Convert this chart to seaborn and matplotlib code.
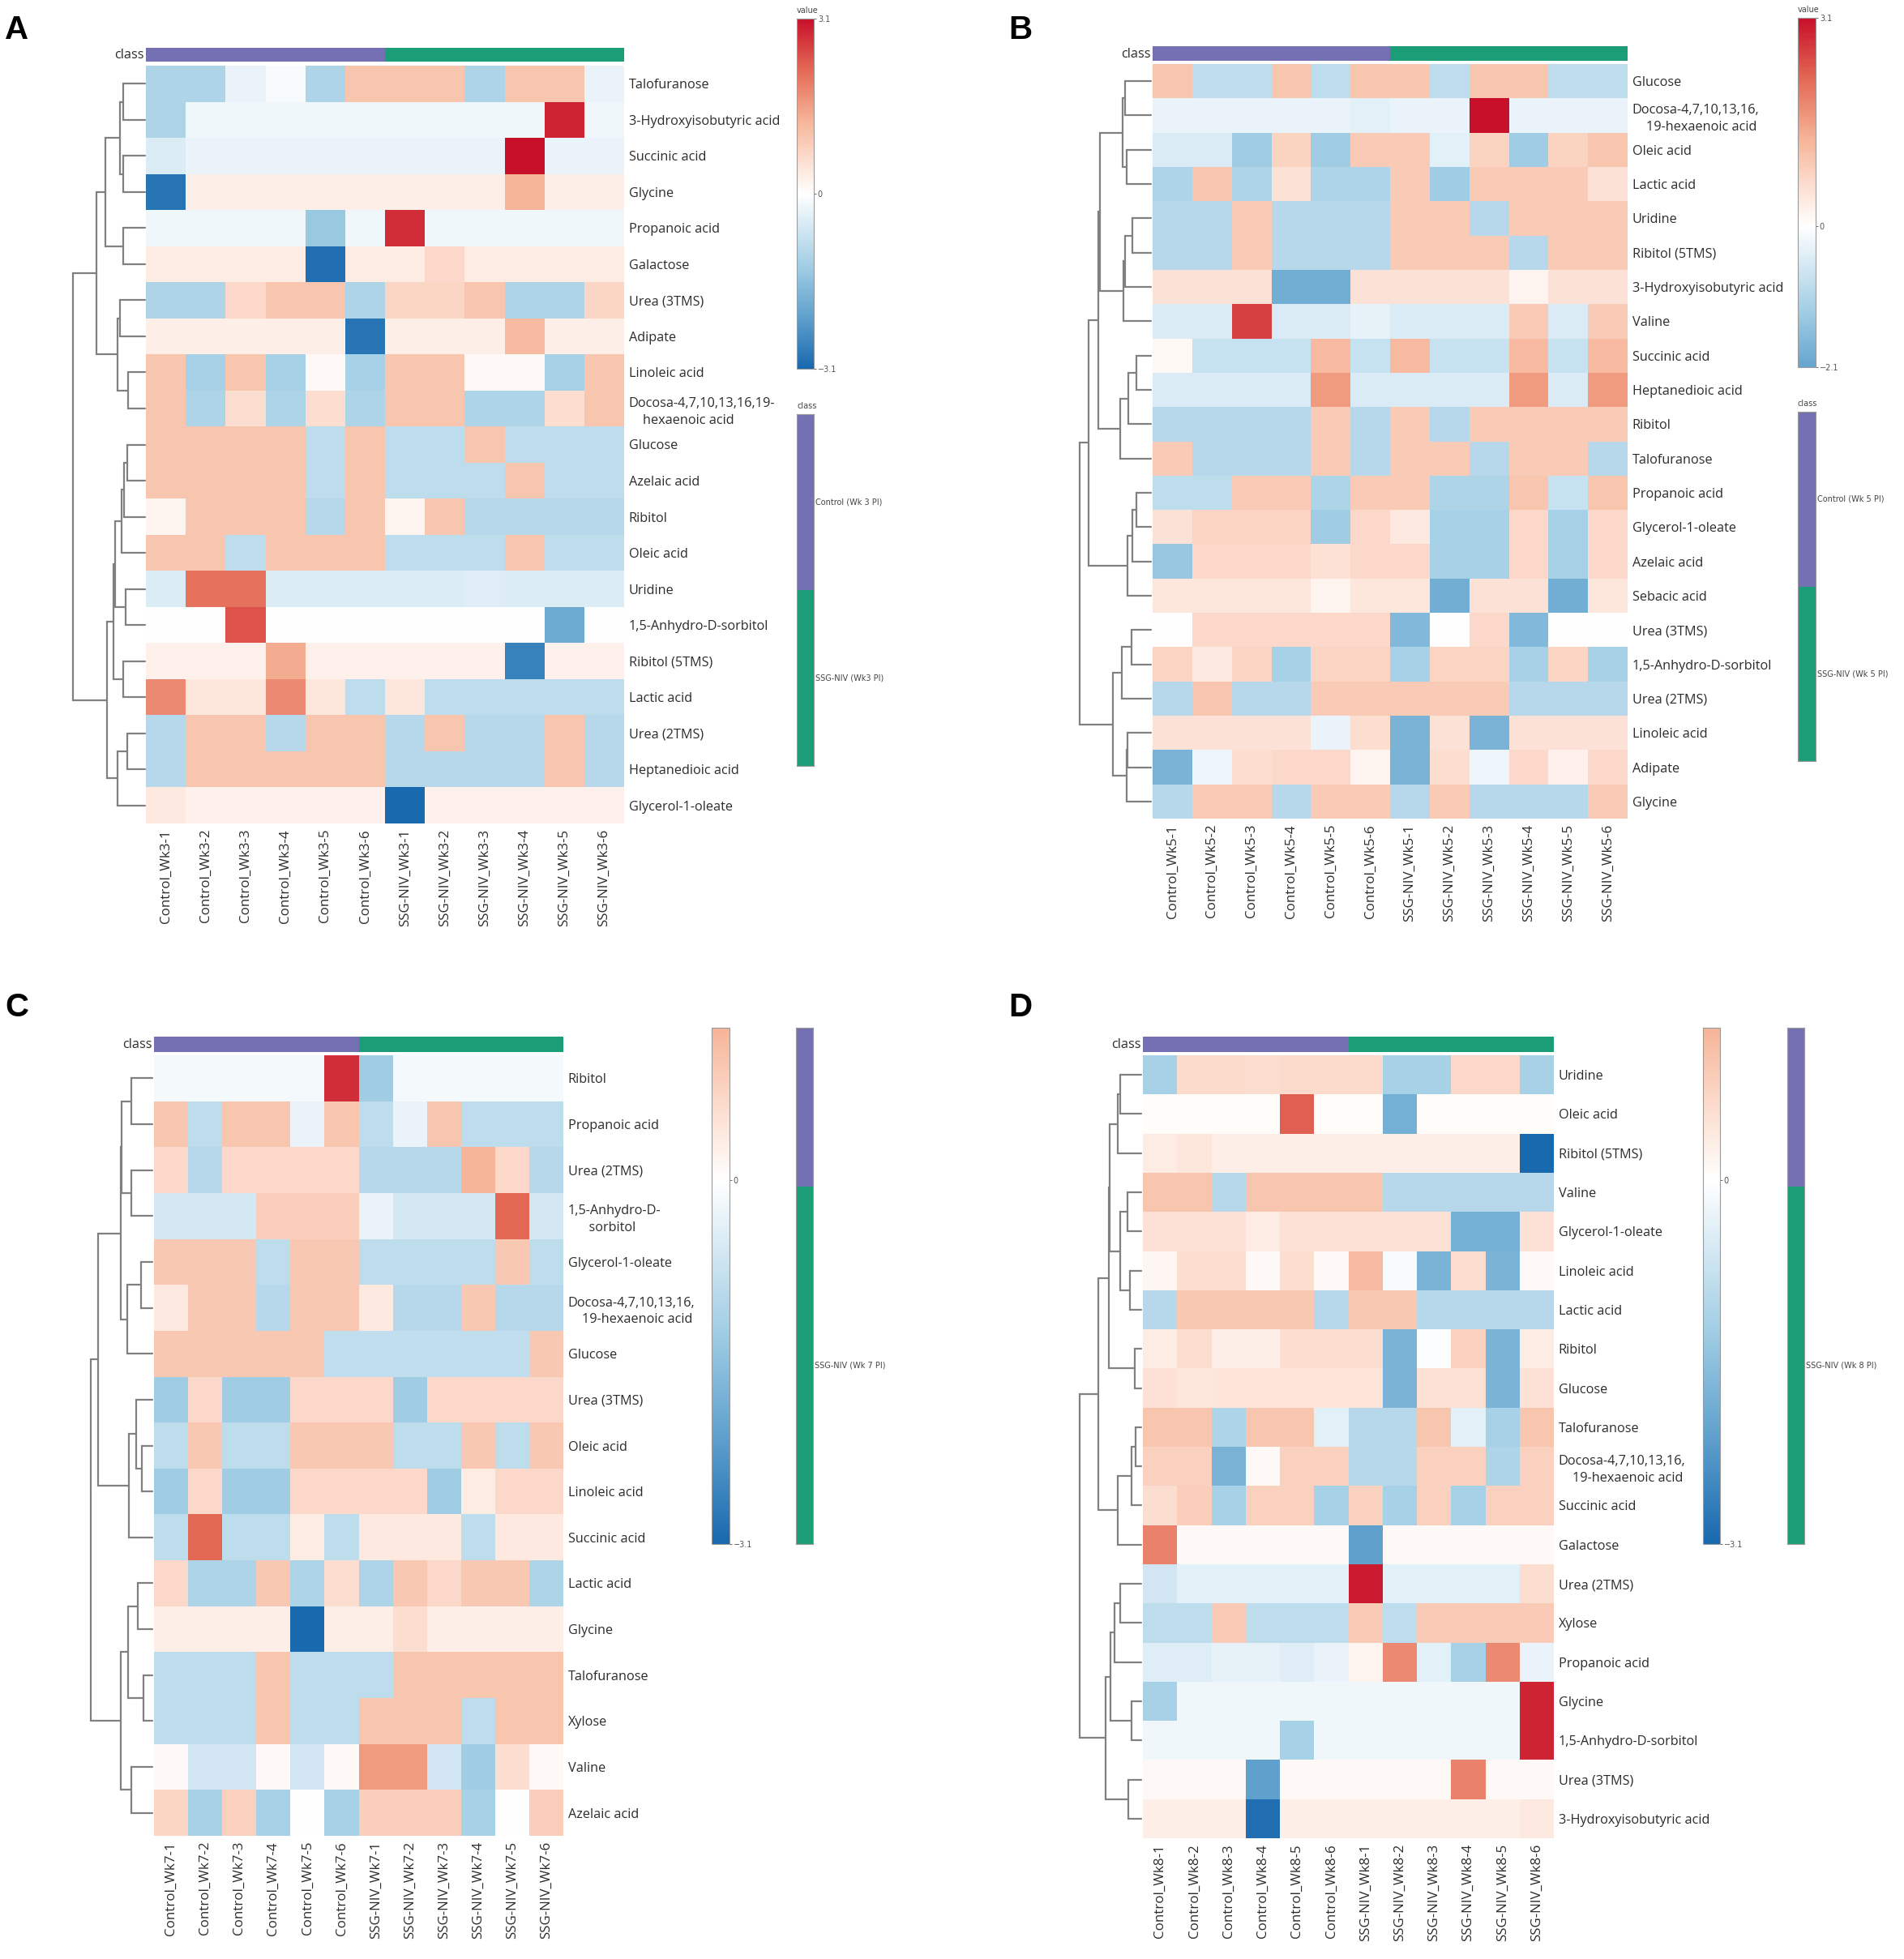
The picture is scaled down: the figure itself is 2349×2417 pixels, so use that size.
import numpy as np
import pandas as pd
import matplotlib
matplotlib.use("Agg")
import matplotlib.pyplot as plt
from matplotlib.colors import LinearSegmentedColormap, ListedColormap
import seaborn as sns

sns.set_style("white")
plt.rcParams["font.family"] = ["Open Sans", "DejaVu Sans"]

W, H = 2349, 2417
TXT = "#2b2b2b"
SMALL = ["DejaVu Sans"]

# ---------------- panel A (week 3) ----------------
cols_a = ["Control_Wk3-1", "Control_Wk3-2", "Control_Wk3-3", "Control_Wk3-4", "Control_Wk3-5", "Control_Wk3-6",
          "SSG-NIV_Wk3-1", "SSG-NIV_Wk3-2", "SSG-NIV_Wk3-3", "SSG-NIV_Wk3-4", "SSG-NIV_Wk3-5", "SSG-NIV_Wk3-6"]
rows_a = ["Talofuranose", "3-Hydroxyisobutyric acid", "Succinic acid", "Glycine", "Propanoic acid",
          "Galactose", "Urea (3TMS)", "Adipate", "Linoleic acid",
          "Docosa-4,7,10,13,16,19-\n    hexaenoic acid", "Glucose", "Azelaic acid", "Ribitol",
          "Oleic acid", "Uridine", "1,5-Anhydro-D-sorbitol", "Ribitol (5TMS)", "Lactic acid",
          "Urea (2TMS)", "Heptanedioic acid", "Glycerol-1-oleate"]
vals_a = [
    [-1.1, -1.1, -0.3, -0.1, -1.1, 1.0, 1.0, 1.0, -1.1, 1.0, 1.0, -0.3],
    [-1.1, -0.2, -0.2, -0.2, -0.2, -0.2, -0.2, -0.2, -0.2, -0.2, 2.9, -0.2],
    [-0.5, -0.3, -0.3, -0.3, -0.3, -0.3, -0.3, -0.3, -0.3, 3.1, -0.3, -0.3],
    [-2.9, 0.3, 0.3, 0.3, 0.3, 0.3, 0.3, 0.3, 0.3, 1.3, 0.3, 0.3],
    [-0.2, -0.2, -0.2, -0.2, -1.4, -0.2, 2.8, -0.2, -0.2, -0.2, -0.2, -0.2],
    [0.35, 0.35, 0.35, 0.35, -3.0, 0.35, 0.35, 0.7, 0.35, 0.35, 0.35, 0.35],
    [-1.1, -1.1, 0.7, 1.0, 1.0, -1.1, 0.75, 0.75, 1.0, -1.1, -1.1, 0.75],
    [0.3, 0.3, 0.3, 0.3, 0.3, -2.9, 0.3, 0.3, 0.3, 1.2, 0.3, 0.3],
    [1.0, -1.2, 1.0, -1.2, 0.1, -1.2, 1.0, 1.0, 0.1, 0.1, -1.2, 1.0],
    [1.0, -1.1, 0.6, -1.1, 0.6, -1.1, 1.0, 1.0, -1.1, -1.1, 0.6, 1.0],
    [1.0, 1.0, 1.0, 1.0, -0.9, 1.0, -0.9, -0.9, 1.0, -0.9, -0.9, -0.9],
    [1.0, 1.0, 1.0, 1.0, -0.9, 1.0, -0.9, -0.9, -0.9, 1.0, -0.9, -0.9],
    [0.2, 1.0, 1.0, 1.0, -1.0, 1.0, 0.2, 1.0, -1.0, -1.0, -1.0, -1.0],
    [1.0, 1.0, -0.9, 1.0, 1.0, 1.0, -0.9, -0.9, -0.9, 1.0, -0.9, -0.9],
    [-0.5, 2.1, 2.1, -0.5, -0.5, -0.5, -0.5, -0.5, -0.45, -0.5, -0.5, -0.5],
    [0.0, 0.0, 2.4, 0.0, 0.0, 0.0, 0.0, 0.0, 0.0, 0.0, -2.0, 0.0],
    [0.25, 0.25, 0.25, 1.4, 0.25, 0.25, 0.25, 0.25, 0.25, -2.7, 0.25, 0.25],
    [1.8, 0.45, 0.45, 1.8, 0.45, -0.9, 0.45, -0.9, -0.9, -0.9, -0.9, -0.9],
    [-1.0, 1.0, 1.0, -1.0, 1.0, 1.0, -1.0, 1.0, -1.0, -1.0, 1.0, -1.0],
    [-1.0, 1.0, 1.0, 1.0, 1.0, 1.0, -1.0, -1.0, -1.0, -1.0, 1.0, -1.0],
    [0.4, 0.25, 0.25, 0.25, 0.25, 0.25, -3.1, 0.25, 0.25, 0.25, 0.25, 0.25],
]
# merges: (child, child, height); ids >= n are earlier merges
link_a = [(0, 1, 82), (2, 3, 82), (21, 22, 95), (4, 5, 82), (23, 24, 150), (6, 7, 95),
          (8, 9, 64), (26, 27, 102), (25, 28, 182), (10, 11, 68), (30, 12, 80), (31, 13, 88),
          (14, 15, 72), (32, 33, 112), (16, 17, 82), (34, 35, 118), (18, 19, 68), (37, 20, 102),
          (36, 38, 142), (29, 39, 270)]
legend_a = ["Control (Wk 3 PI)", "SSG-NIV (Wk3 PI)"]

# ---------------- panel B (week 5) ----------------
cols_b = ["Control_Wk5-1", "Control_Wk5-2", "Control_Wk5-3", "Control_Wk5-4", "Control_Wk5-5", "Control_Wk5-6",
          "SSG-NIV_Wk5-1", "SSG-NIV_Wk5-2", "SSG-NIV_Wk5-3", "SSG-NIV_Wk5-4", "SSG-NIV_Wk5-5", "SSG-NIV_Wk5-6"]
rows_b = ["Glucose", "Docosa-4,7,10,13,16,\n    19-hexaenoic acid", "Oleic acid", "Lactic acid", "Uridine",
          "Ribitol (5TMS)", "3-Hydroxyisobutyric acid", "Valine", "Succinic acid", "Heptanedioic acid",
          "Ribitol", "Talofuranose", "Propanoic acid", "Glycerol-1-oleate", "Azelaic acid",
          "Sebacic acid", "Urea (3TMS)", "1,5-Anhydro-D-sorbitol", "Urea (2TMS)", "Linoleic acid",
          "Adipate", "Glycine"]
vals_b = [
    [1.0, -0.9, -0.9, 1.0, -0.9, 1.0, 1.0, -0.9, 1.0, 1.0, -0.9, -0.9],
    [-0.3, -0.3, -0.3, -0.3, -0.3, -0.4, -0.3, -0.3, 3.1, -0.3, -0.3, -0.3],
    [-0.5, -0.5, -1.3, 0.8, -1.3, 0.9, 0.9, -0.4, 0.8, -1.3, 0.8, 1.0],
    [-1.1, 1.0, -1.1, 0.5, -1.1, -1.1, 0.9, -1.3, 0.9, 0.9, 0.9, 0.5],
    [-1.0, -1.0, 0.9, -1.0, -1.0, -1.0, 0.9, 0.9, -1.0, 0.9, 0.9, 0.9],
    [-1.0, -1.0, 0.9, -1.0, -1.0, -1.0, 0.9, 0.9, 0.9, -1.0, 0.9, 0.9],
    [0.5, 0.5, 0.5, -1.9, -1.9, 0.5, 0.5, 0.5, 0.5, 0.2, 0.5, 0.5],
    [-0.5, -0.5, 2.6, -0.5, -0.5, -0.35, -0.5, -0.5, -0.5, 0.9, -0.5, 0.9],
    [0.15, -0.8, -0.8, -0.8, 1.2, -0.8, 1.2, -0.8, -0.8, 1.2, -0.8, 1.2],
    [-0.5, -0.5, -0.5, -0.5, 1.6, -0.5, -0.5, -0.5, -0.5, 1.6, -0.5, 1.6],
    [-1.0, -1.0, -1.0, -1.0, 0.9, -1.0, 0.9, -1.0, 0.9, 0.9, 0.9, 0.9],
    [0.9, -1.0, -1.0, -1.0, 0.9, -1.0, 0.9, 0.9, -1.0, 0.9, 0.9, -1.0],
    [-0.9, -0.9, 0.9, 0.9, -1.1, 0.9, 0.9, -1.1, -1.1, 1.0, -0.8, 1.0],
    [0.5, 0.75, 0.75, 0.75, -1.3, 0.7, 0.4, -1.2, -1.2, 0.7, -1.2, 0.7],
    [-1.4, 0.7, 0.7, 0.7, 0.55, 0.7, 0.7, -1.2, -1.2, 0.7, -1.2, 0.7],
    [0.45, 0.45, 0.45, 0.45, 0.2, 0.45, 0.45, -1.9, 0.5, 0.5, -1.9, 0.45],
    [0.0, 0.7, 0.7, 0.7, 0.7, 0.7, -1.7, 0.0, 0.7, -1.7, 0.0, 0.0],
    [0.75, 0.4, 0.75, -1.2, 0.75, 0.75, -1.2, 0.75, 0.75, -1.2, 0.75, -1.2],
    [-1.0, 1.0, -1.0, -1.0, 0.9, 0.9, 0.9, 0.9, 0.9, -1.0, -1.0, -1.0],
    [0.5, 0.5, 0.5, 0.5, -0.3, 0.6, -1.8, 0.5, -1.8, 0.5, 0.5, 0.5],
    [-1.8, -0.25, 0.6, 0.7, 0.7, 0.2, -1.8, 0.6, -0.25, 0.7, 0.25, 0.7],
    [-1.0, 0.9, 0.9, -1.0, 0.9, 0.9, -1.0, 0.9, -1.0, -1.0, -1.0, 0.9],
]
link_b = [(0, 1, 95), (2, 3, 90), (22, 23, 103), (4, 5, 68), (25, 6, 95), (26, 7, 102),
          (24, 27, 188), (8, 9, 55), (29, 10, 82), (30, 11, 112), (28, 31, 195), (12, 13, 55),
          (33, 14, 68), (34, 15, 85), (32, 35, 230), (16, 17, 70), (37, 18, 108), (19, 20, 85),
          (39, 21, 90), (38, 40, 140), (36, 41, 262)]
legend_b = ["Control (Wk 5 PI)", "SSG-NIV (Wk 5 PI)"]

# ---------------- panel C (week 7) ----------------
cols_c = ["Control_Wk7-1", "Control_Wk7-2", "Control_Wk7-3", "Control_Wk7-4", "Control_Wk7-5", "Control_Wk7-6",
          "SSG-NIV_Wk7-1", "SSG-NIV_Wk7-2", "SSG-NIV_Wk7-3", "SSG-NIV_Wk7-4", "SSG-NIV_Wk7-5", "SSG-NIV_Wk7-6"]
rows_c = ["Ribitol", "Propanoic acid", "Urea (2TMS)", "1,5-Anhydro-D-\n      sorbitol", "Glycerol-1-oleate",
          "Docosa-4,7,10,13,16,\n    19-hexaenoic acid", "Glucose", "Urea (3TMS)", "Oleic acid",
          "Linoleic acid", "Succinic acid", "Lactic acid", "Glycine", "Talofuranose", "Xylose",
          "Valine", "Azelaic acid"]
vals_c = [
    [-0.15, -0.15, -0.15, -0.15, -0.15, 2.8, -1.3, -0.15, -0.15, -0.15, -0.15, -0.15],
    [1.0, -0.9, 1.0, 1.0, -0.3, 1.0, -0.9, -0.3, 1.0, -0.9, -0.9, -0.9],
    [0.7, -1.0, 0.7, 0.7, 0.7, 0.7, -1.0, -1.0, -1.0, 1.3, 0.7, -1.0],
    [-0.6, -0.6, -0.6, 0.85, 0.85, 0.85, -0.3, -0.6, -0.6, -0.6, 2.2, -0.6],
    [0.95, 0.95, 0.95, -0.9, 0.95, 0.95, -0.9, -0.9, -0.9, -0.9, 0.95, -0.9],
    [0.4, 0.95, 0.95, -1.0, 0.95, 0.95, 0.4, -1.0, -1.0, 0.95, -1.0, -1.0],
    [0.95, 0.95, 0.95, 0.95, 0.95, -0.85, -0.85, -0.85, -0.85, -0.85, -0.85, 0.95],
    [-1.3, 0.7, -1.3, -1.3, 0.7, 0.7, 0.7, -1.3, 0.7, 0.7, 0.7, 0.7],
    [-0.9, 0.95, -0.9, -0.9, 0.95, 0.95, 0.95, -0.9, -0.9, 0.95, -0.9, 0.95],
    [-1.3, 0.7, -1.3, -1.3, 0.7, 0.7, 0.7, 0.7, -1.3, 0.35, 0.7, 0.7],
    [-0.9, 2.2, -0.9, -0.9, 0.35, -0.9, 0.4, 0.4, 0.4, -0.9, 0.4, 0.4],
    [0.7, -1.1, -1.1, 0.95, -1.1, 0.6, -1.1, 0.95, 0.7, 0.95, 0.95, -1.1],
    [0.3, 0.3, 0.3, 0.3, -3.1, 0.3, 0.3, 0.6, 0.3, 0.3, 0.3, 0.3],
    [-0.9, -0.9, -0.9, 1.0, -0.9, -0.9, -0.9, 1.0, 1.0, 1.0, 1.0, 1.0],
    [-0.9, -0.9, -0.9, 1.0, -0.9, -0.9, 1.0, 1.0, 1.0, -0.9, 1.0, 1.0],
    [0.1, -0.65, -0.65, 0.1, -0.65, 0.1, 1.6, 1.6, -0.65, -1.3, 0.6, 0.1],
    [0.75, -1.2, 0.8, -1.2, 0.0, -1.2, 0.85, 0.85, 0.85, -1.2, 0.0, 0.85],
]
link_c = [(0, 1, 80), (2, 3, 80), (17, 18, 115), (4, 5, 42), (20, 6, 95), (19, 21, 120),
          (8, 9, 40), (7, 23, 60), (24, 10, 90), (22, 25, 205), (11, 12, 55), (13, 14, 35),
          (27, 28, 92), (15, 16, 80), (29, 30, 120), (26, 31, 232)]
legend_c = ["Control (Wk 7 PI)", "SSG-NIV (Wk 7 PI)"]

# ---------------- panel D (week 8) ----------------
cols_d = ["Control_Wk8-1", "Control_Wk8-2", "Control_Wk8-3", "Control_Wk8-4", "Control_Wk8-5", "Control_Wk8-6",
          "SSG-NIV_Wk8-1", "SSG-NIV_Wk8-2", "SSG-NIV_Wk8-3", "SSG-NIV_Wk8-4", "SSG-NIV_Wk8-5", "SSG-NIV_Wk8-6"]
rows_d = ["Uridine", "Oleic acid", "Ribitol (5TMS)", "Valine", "Glycerol-1-oleate", "Linoleic acid",
          "Lactic acid", "Ribitol", "Glucose", "Talofuranose", "Docosa-4,7,10,13,16,\n    19-hexaenoic acid",
          "Succinic acid", "Galactose", "Urea (2TMS)", "Xylose", "Propanoic acid", "Glycine",
          "1,5-Anhydro-D-sorbitol", "Urea (3TMS)", "3-Hydroxyisobutyric acid"]
vals_d = [
    [-1.2, 0.65, 0.65, 0.6, 0.65, 0.65, 0.65, -1.2, -1.2, 0.7, 0.7, -1.2],
    [0.05, 0.05, 0.05, 0.05, 2.3, 0.05, 0.05, -1.9, 0.05, 0.05, 0.05, 0.05],
    [0.35, 0.45, 0.3, 0.3, 0.3, 0.3, 0.3, 0.3, 0.3, 0.3, 0.3, -3.1],
    [1.0, 1.0, -1.0, 1.0, 1.0, 1.0, 1.0, -1.0, -1.0, -1.0, -1.0, -1.0],
    [0.55, 0.55, 0.55, 0.35, 0.55, 0.55, 0.55, 0.55, 0.55, -1.9, -1.9, 0.55],
    [0.15, 0.6, 0.6, 0.1, 0.6, 0.1, 1.2, -0.1, -1.8, 0.6, -1.8, 0.1],
    [-1.0, 0.95, 0.95, 0.95, 0.95, -1.0, 0.95, 0.95, -1.0, -1.0, -1.0, -1.0],
    [0.35, 0.6, 0.3, 0.3, 0.6, 0.6, 0.6, -1.8, -0.05, 0.8, -1.8, 0.35],
    [0.55, 0.45, 0.5, 0.5, 0.5, 0.5, 0.5, -1.8, 0.55, 0.55, -1.8, 0.55],
    [1.0, 1.0, -1.1, 1.0, 1.0, -0.4, -1.0, -1.0, 1.0, -0.4, -1.2, 1.0],
    [0.8, 0.8, -1.8, 0.1, 0.8, 0.8, -1.0, -1.0, 0.8, 0.8, -1.1, 0.8],
    [0.6, 0.85, -1.2, 0.8, 0.8, -1.2, 0.8, -1.2, 0.8, -1.2, 0.8, 0.8],
    [1.9, 0.1, 0.1, 0.1, 0.1, 0.1, -2.2, 0.1, 0.1, 0.1, 0.1, 0.1],
    [-0.65, -0.4, -0.4, -0.4, -0.4, -0.4, 3.0, -0.4, -0.4, -0.4, -0.4, 0.6],
    [-0.9, -0.9, 0.9, -0.9, -0.9, -0.9, 0.9, -0.9, 0.9, 0.9, 0.9, 0.9],
    [-0.45, -0.45, -0.35, -0.35, -0.45, -0.3, 0.2, 1.8, -0.4, -1.2, 1.8, -0.3],
    [-1.2, -0.2, -0.2, -0.2, -0.2, -0.2, -0.2, -0.2, -0.2, -0.2, -0.2, 2.9],
    [-0.2, -0.2, -0.2, -0.2, -1.2, -0.2, -0.2, -0.2, -0.2, -0.2, -0.2, 2.9],
    [0.1, 0.1, 0.1, -2.2, 0.1, 0.1, 0.1, 0.1, 0.1, 1.9, 0.1, 0.1],
    [0.3, 0.3, 0.3, -3.0, 0.3, 0.3, 0.3, 0.3, 0.3, 0.3, 0.3, 0.4],
]
link_d = [(0, 1, 78), (20, 2, 88), (3, 4, 52), (5, 6, 42), (22, 23, 78), (21, 24, 118),
          (7, 8, 25), (25, 26, 122), (9, 10, 22), (28, 11, 38), (29, 12, 90), (27, 30, 162),
          (13, 14, 80), (32, 15, 100), (16, 17, 38), (33, 34, 116), (18, 19, 50), (35, 36, 135),
          (31, 37, 232)]
legend_d = ["Control (Wk 8 PI)", "SSG-NIV (Wk 8 PI)"]

# colour scale
scale_pos = [-3.1, -2.2, -1.3, -0.6, 0.0, 0.6, 1.3, 2.2, 3.1]
scale_col = ["#1969af", "#5fa0cd", "#a0cde4", "#d4e8f3", "#ffffff", "#fcded0", "#f6b498", "#e46955", "#c8102a"]
cmap = LinearSegmentedColormap.from_list(
    "val", [((p + 3.1) / 6.2, c) for p, c in zip(scale_pos, scale_col)])
class_cmap = ListedColormap(["#7570b3", "#1b9e77"])


def add_ax(fig, box):
    x0, y0, x1, y1 = box
    return fig.add_axes([x0 / W, 1 - y1 / H, (x1 - x0) / W, (y1 - y0) / H])


def draw_dendro(ax, link, n):
    ypos = {i: i + 0.5 for i in range(n)}
    hgt = {i: 0.0 for i in range(n)}
    for k, (a, b, h) in enumerate(link):
        ax.plot([hgt[a], h, h, hgt[b]], [ypos[a], ypos[a], ypos[b], ypos[b]],
                color="#808080", lw=1.6, clip_on=False, solid_joinstyle="miter")
        ypos[n + k] = (ypos[a] + ypos[b]) / 2
        hgt[n + k] = h
    ax.set_xlim(max(m[2] for m in link), 0)
    ax.set_ylim(n, 0)
    ax.axis("off")


def tick_text(v):
    if v == 0:
        return "0"
    return f"{v:.1f}".replace("-", "\u2212")


def draw_panel(fig, lay, letter, rows, cols, vals, link, legend, vmin, cbar_top, legend_top, show_heads):
    df = pd.DataFrame(vals, index=rows, columns=cols)
    hax = add_ax(fig, lay["heat"])
    cax = add_ax(fig, lay["cbar"])
    ticks = [vmin, 0, 3.1]
    sns.heatmap(df, ax=hax, cbar_ax=cax, cmap=cmap, vmin=vmin, vmax=3.1, center=0,
                xticklabels=True, yticklabels=True, cbar_kws={"ticks": ticks})
    hax.yaxis.tick_right()
    hax.tick_params(axis="both", length=0, colors=TXT)
    hax.tick_params(axis="x", pad=5, labelrotation=90, labelsize=12.2)
    hax.tick_params(axis="y", pad=4, labelrotation=0, labelsize=11.7)
    for t in hax.get_yticklabels():
        t.set_linespacing(1.4)
        t.set_ha("left")

    cb = hax.collections[0].colorbar
    cb.outline.set_linewidth(0.8)
    cb.outline.set_edgecolor("#9a9a9a")
    cb.set_ticklabels([tick_text(t) for t in ticks])
    cb.ax.tick_params(labelsize=7, length=2.5, width=0.6, colors="#555555", pad=1)
    for t in cb.ax.get_yticklabels():
        t.set_family(SMALL)
    cb.ax.set_ylim(vmin, cbar_top)

    # class strip above the heatmap
    groups = [[0 if c.startswith("Control") else 1 for c in cols]]
    bax = add_ax(fig, lay["bar"])
    sns.heatmap(groups, ax=bax, cmap=class_cmap, vmin=0, vmax=1, cbar=False,
                xticklabels=False, yticklabels=False)
    bax.text(-0.004, 0.45, "class", transform=bax.transAxes, ha="right", va="center",
             fontsize=11.7, color=TXT)

    # class legend bar
    lax = add_ax(fig, lay["legend"])
    sns.heatmap([[0], [1]], ax=lax, cmap=class_cmap, vmin=0, vmax=1, cbar=False,
                xticklabels=False, yticklabels=False)
    lax.set_ylim(2, legend_top)
    for s in lax.spines.values():
        s.set_visible(True)
        s.set_color("#9a9a9a")
        s.set_linewidth(0.8)
    for i, name in enumerate(legend):
        if i + 0.5 > legend_top:
            lax.text(1.1, i + 0.5, name, ha="left", va="center", fontsize=7,
                     family=SMALL, color="#444444", clip_on=False)

    dax = add_ax(fig, lay["dend"])
    draw_dendro(dax, link, len(rows))

    if show_heads:
        x0, y0 = lay["cbar"][0], lay["cbar"][1]
        fig.text(x0 / W, 1 - (y0 - 5) / H, "value", fontsize=7, family=SMALL,
                 color="#444444", va="bottom")
        x0, y0 = lay["legend"][0], lay["legend"][1]
        fig.text(x0 / W, 1 - (y0 - 5) / H, "class", fontsize=7, family=SMALL,
                 color="#444444", va="bottom")

    lx, ly = lay["letter"]
    fig.text(lx / W, 1 - ly / H, letter, fontsize=29, fontweight="bold",
             family=["Liberation Sans", "DejaVu Sans"], ha="left", va="baseline", color="black")


LAY_A = dict(heat=(180, 81, 770, 1016), bar=(180, 59, 770, 76), dend=(90, 81, 179, 1016),
             cbar=(983, 23, 1004, 455), legend=(983, 511, 1004, 945), letter=(6, 48))
LAY_B = dict(heat=(1422, 79, 2008, 1010), bar=(1422, 57, 2008, 75), dend=(1332, 79, 1420, 1010),
             cbar=(2218, 22, 2240, 453), legend=(2218, 508, 2240, 939), letter=(1244, 48))
LAY_C = dict(heat=(190, 1302, 695, 2265), bar=(190, 1279, 695, 1298), dend=(112, 1302, 188, 2265),
             cbar=(878, 1268, 900, 1905), legend=(982, 1268, 1003, 1905), letter=(6, 1254))
LAY_D = dict(heat=(1410, 1302, 1917, 2268), bar=(1410, 1279, 1917, 1298), dend=(1332, 1302, 1408, 2268),
             cbar=(2101, 1268, 2122, 1905), legend=(2205, 1268, 2226, 1905), letter=(1244, 1254))

fig = plt.figure(figsize=(W / 100, H / 100), dpi=100)
fig.patch.set_facecolor("white")

draw_panel(fig, LAY_A, "A", rows_a, cols_a, vals_a, link_a, legend_a, -3.1, 3.1, 0, True)
draw_panel(fig, LAY_B, "B", rows_b, cols_b, vals_b, link_b, legend_b, -2.1, 3.1, 0, True)
draw_panel(fig, LAY_C, "C", rows_c, cols_c, vals_c, link_c, legend_c, -3.1, 1.3, 0.556, False)
draw_panel(fig, LAY_D, "D", rows_d, cols_d, vals_d, link_d, legend_d, -3.1, 1.3, 0.556, False)

fig.savefig("out.png", dpi=100, facecolor="white")
